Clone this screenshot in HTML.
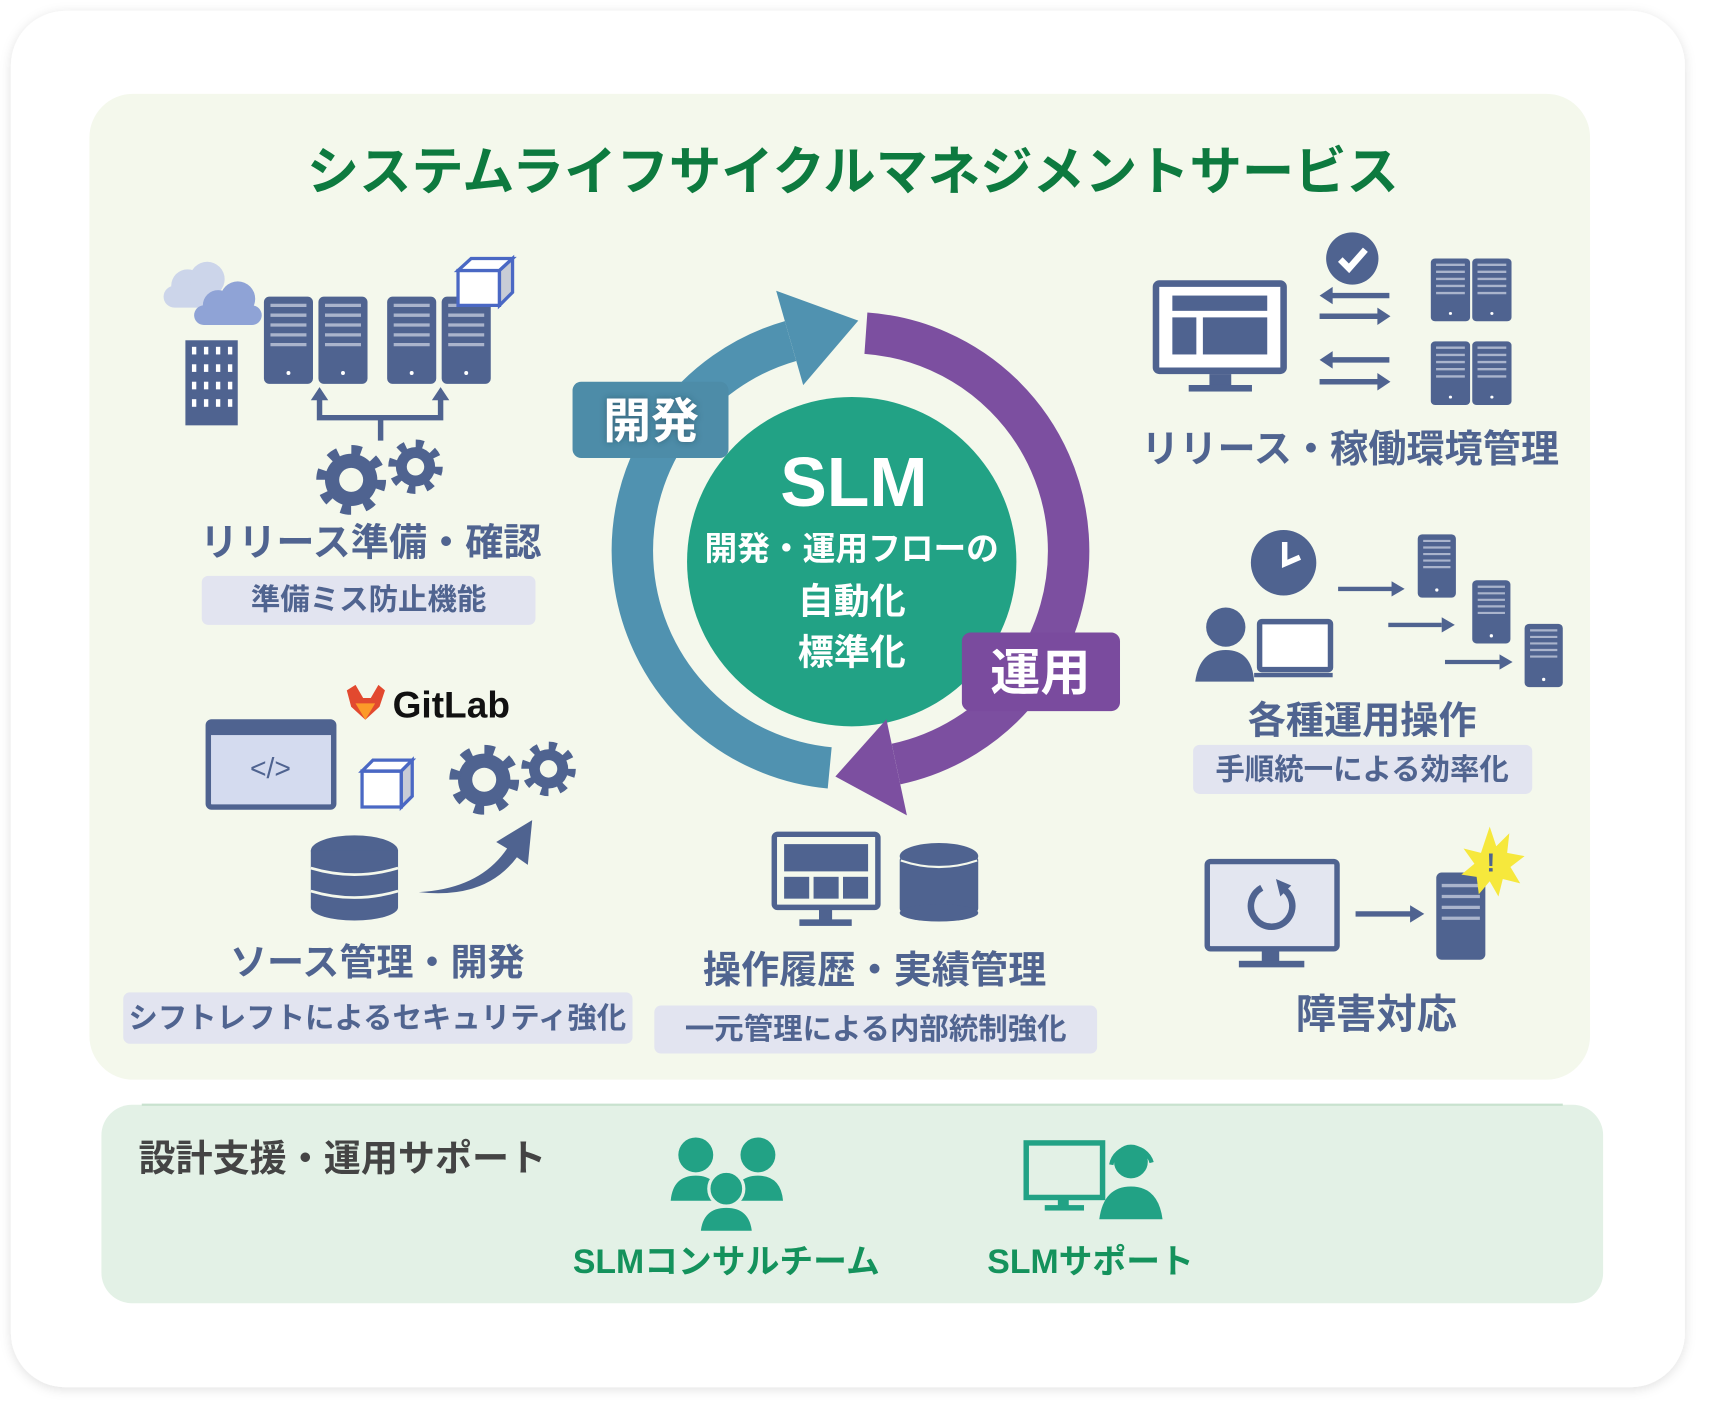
<!DOCTYPE html>
<html><head><meta charset="utf-8"><style>
html,body{margin:0;padding:0;background:#fff;}
svg{display:block;font-family:"Liberation Sans","Noto Sans CJK JP",sans-serif;}
</style></head><body>
<svg width="1710" height="1412" viewBox="0 0 1568 1294.7" xmlns="http://www.w3.org/2000/svg">
<defs>
<filter id="sh" x="-5%" y="-5%" width="110%" height="110%"><feDropShadow dx="0" dy="2" stdDeviation="5" flood-color="#000" flood-opacity="0.12"/></filter>
<filter id="ts" x="-20%" y="-20%" width="140%" height="140%"><feDropShadow dx="0" dy="0" stdDeviation="3" flood-color="#1d3b4a" flood-opacity="0.5"/></filter>
<g id="gearA"><circle r="24" fill="#4f6390"/><circle r="27" fill="none" stroke="#4f6390" stroke-width="10" stroke-dasharray="9 12.2"/><circle r="11" fill="#f4f8ec"/></g>
<g id="gearB"><circle r="18" fill="#4f6390"/><circle r="21" fill="none" stroke="#4f6390" stroke-width="8" stroke-dasharray="7 9.5"/><circle r="8" fill="#f4f8ec"/></g>
<g id="srv"><rect x="0" y="0" width="45" height="80" rx="5" fill="#4f6390"/><g stroke="#aab4cc" stroke-width="3"><line x1="6" y1="8" x2="39" y2="8"/><line x1="6" y1="17" x2="39" y2="17"/><line x1="6" y1="26" x2="39" y2="26"/><line x1="6" y1="35" x2="39" y2="35"/><line x1="6" y1="44" x2="39" y2="44"/></g><circle cx="22.5" cy="70" r="1.8" fill="#fff"/></g>
<g id="srvs"><rect x="0" y="0" width="35" height="58" rx="4" fill="#4f6390"/><g stroke="#aab4cc" stroke-width="2"><line x1="5" y1="6" x2="30" y2="6"/><line x1="5" y1="12" x2="30" y2="12"/><line x1="5" y1="18" x2="30" y2="18"/><line x1="5" y1="24" x2="30" y2="24"/><line x1="5" y1="30" x2="30" y2="30"/></g><circle cx="17.5" cy="51" r="1.5" fill="#fff"/></g>
</defs>

<rect x="10" y="10" width="1535" height="1262" rx="50" fill="#fff" filter="url(#sh)"/>
<rect x="82" y="86" width="1376" height="904" rx="40" fill="#f4f8ec"/>
<rect x="93" y="1013" width="1377" height="182" rx="28" fill="#e3f1e6"/>
<line x1="130" y1="1013" x2="1433" y2="1013" stroke="#c9e2cf" stroke-width="2"/>

<text x="782" y="158" text-anchor="middle" dominant-baseline="central" font-size="48" font-weight="bold" fill="#0d7a3f">システムライフサイクルマネジメントサービス</text>

<!-- Cycle -->
<circle cx="781" cy="515" r="151" fill="#22a285"/>
<path d="M760.8 704.1 A200 200 0 0 1 724.9 312.7" fill="none" stroke="#5092b0" stroke-width="38"/>
<polygon points="736.5,353.1 711.7,266.6 787,294" fill="#5092b0"/>
<path d="M794 305.5 A200 200 0 0 1 821.6 700.6" fill="none" stroke="#7c4fa0" stroke-width="38"/>
<polygon points="812.8,659.5 831.6,747.6 766,712" fill="#7c4fa0"/>
<rect x="525" y="350" width="143" height="70" rx="8" fill="#4d8ca8"/>
<text x="597" y="387" text-anchor="middle" dominant-baseline="central" font-size="44" font-weight="bold" fill="#fff" filter="url(#ts)">開発</text>
<rect x="882" y="580" width="145" height="72" rx="8" fill="#7a4b9e"/>
<text x="954" y="617" text-anchor="middle" dominant-baseline="central" font-size="46" font-weight="bold" fill="#fff">運用</text>
<text x="783" y="442" text-anchor="middle" dominant-baseline="central" font-size="64" font-weight="bold" fill="#fff">SLM</text>
<text x="781" y="503" text-anchor="middle" dominant-baseline="central" font-size="30" font-weight="bold" fill="#fff">開発・運用フローの</text>
<text x="781" y="551" text-anchor="middle" dominant-baseline="central" font-size="33" font-weight="bold" fill="#fff">自動化</text>
<text x="781" y="598" text-anchor="middle" dominant-baseline="central" font-size="33" font-weight="bold" fill="#fff">標準化</text>

<!-- Top-left -->
<g fill="#ccd5ea"><circle cx="172" cy="262" r="15"/><circle cx="190" cy="256" r="16"/><rect x="150" y="262" width="50" height="20" rx="10"/></g>
<g fill="#8fa3d6"><circle cx="200" cy="280" r="14"/><circle cx="218" cy="274" r="16"/><rect x="178" y="280" width="62" height="18" rx="9"/></g>
<rect x="170" y="312" width="48" height="78" fill="#4f6390"/>
<g fill="#fff"><rect x="176" y="318" width="4" height="7"/><rect x="187" y="318" width="4" height="7"/><rect x="198" y="318" width="4" height="7"/><rect x="209" y="318" width="4" height="7"/><rect x="176" y="334" width="4" height="7"/><rect x="187" y="334" width="4" height="7"/><rect x="198" y="334" width="4" height="7"/><rect x="209" y="334" width="4" height="7"/><rect x="176" y="350" width="4" height="7"/><rect x="187" y="350" width="4" height="7"/><rect x="198" y="350" width="4" height="7"/><rect x="209" y="350" width="4" height="7"/><rect x="176" y="366" width="4" height="7"/><rect x="187" y="366" width="4" height="7"/><rect x="198" y="366" width="4" height="7"/><rect x="209" y="366" width="4" height="7"/></g>
<use href="#srv" x="242" y="272"/><use href="#srv" x="292" y="272"/><use href="#srv" x="355" y="272"/><use href="#srv" x="405" y="272"/>
<g><polygon points="420,248 458,248 458,280 420,280" fill="#fff" stroke="#4a68c4" stroke-width="3"/><polygon points="420,248 432,237 470,237 458,248" fill="#fff" stroke="#4a68c4" stroke-width="3"/><polygon points="458,248 470,237 470,268 458,280" fill="#c8ccd6" stroke="#4a68c4" stroke-width="3"/></g>
<g stroke="#4f6390" stroke-width="5" fill="none"><polyline points="293,364 293,383 404,383 404,364"/><line x1="349" y1="383" x2="349" y2="404"/></g>
<polygon points="285,367 293,355 301,367" fill="#4f6390"/><polygon points="396,367 404,355 412,367" fill="#4f6390"/>
<use href="#gearA" x="322" y="440"/><use href="#gearB" x="381" y="428"/>
<text x="340" y="498" text-anchor="middle" dominant-baseline="central" font-size="35" font-weight="bold" fill="#506490">リリース準備・確認</text>
<rect x="185" y="528" width="306" height="45" rx="6" fill="#e2e4f0"/>
<text x="338" y="550" text-anchor="middle" dominant-baseline="central" font-size="27" font-weight="bold" fill="#506490">準備ミス防止機能</text>

<!-- Source -->
<polygon points="318,633 326,628 333,640 340,640 347,628 353,633 348,648 335,660 322,648" fill="#e2492f"/>
<polygon points="326,645 344,645 335,660" fill="#fc9a29"/>
<text x="360" y="646" dominant-baseline="central" font-size="34" font-weight="bold" fill="#111">GitLab</text>
<rect x="191" y="662" width="115" height="78" rx="3" fill="#d4dbef" stroke="#4f6390" stroke-width="5"/>
<rect x="191" y="662" width="115" height="12" fill="#4f6390"/>
<text x="248" y="705" text-anchor="middle" dominant-baseline="central" font-size="26" fill="#4f6390">&lt;/&gt;</text>
<g><polygon points="332,707 368,707 368,740 332,740" fill="#fff" stroke="#4a68c4" stroke-width="3"/><polygon points="332,707 342,697 378,697 368,707" fill="#fff" stroke="#4a68c4" stroke-width="3"/><polygon points="368,707 378,697 378,730 368,740" fill="#c8ccd6" stroke="#4a68c4" stroke-width="3"/></g>
<use href="#gearA" x="444" y="715"/><use href="#gearB" x="503" y="705"/>
<g fill="#4f6390"><ellipse cx="325" cy="780" rx="40" ry="14"/><rect x="285" y="780" width="80" height="52"/><ellipse cx="325" cy="832" rx="40" ry="12"/></g>
<g stroke="#f4f8ec" stroke-width="2.5" fill="none"><path d="M285 796 Q325 808 365 796"/><path d="M285 817 Q325 829 365 817"/></g>
<path d="M384 818 Q440 815 465 778 L455 772 L488 752 L484 793 L474 786 Q445 825 384 818Z" fill="#4f6390"/>
<text x="346" y="882" text-anchor="middle" dominant-baseline="central" font-size="34" font-weight="bold" fill="#506490">ソース管理・開発</text>
<rect x="113" y="910" width="467" height="47" rx="6" fill="#e2e4f0"/>
<text x="346" y="934" text-anchor="middle" dominant-baseline="central" font-size="27" font-weight="bold" fill="#506490">シフトレフトによるセキュリティ強化</text>

<!-- Middle bottom -->
<rect x="710" y="765" width="95" height="67" rx="3" fill="#f4f8ec" stroke="#4f6390" stroke-width="5"/>
<rect x="719" y="774" width="77" height="25" fill="#4f6390"/>
<rect x="719" y="804" width="23" height="20" fill="#4f6390"/><rect x="746" y="804" width="23" height="20" fill="#4f6390"/><rect x="773" y="804" width="23" height="20" fill="#4f6390"/>
<rect x="751" y="832" width="12" height="12" fill="#4f6390"/><rect x="733" y="843" width="48" height="6" fill="#4f6390"/>
<g fill="#4f6390"><rect x="825" y="785" width="72" height="52" rx="4"/><ellipse cx="861" cy="785" rx="36" ry="12"/><ellipse cx="861" cy="837" rx="36" ry="8"/></g>
<path d="M826 789 Q861 801 896 789" stroke="#f4f8ec" stroke-width="2" fill="none"/>
<text x="802" y="890" text-anchor="middle" dominant-baseline="central" font-size="35" font-weight="bold" fill="#506490">操作履歴・実績管理</text>
<rect x="600" y="922" width="406" height="44" rx="6" fill="#e2e4f0"/>
<text x="803" y="944" text-anchor="middle" dominant-baseline="central" font-size="27" font-weight="bold" fill="#506490">一元管理による内部統制強化</text>

<!-- Right top -->
<rect x="1060" y="260" width="117" height="80" rx="3" fill="#fff" stroke="#4f6390" stroke-width="6"/>
<rect x="1075" y="271" width="87" height="14" fill="#4f6390"/><rect x="1075" y="291" width="22" height="34" fill="#4f6390"/><rect x="1103" y="291" width="59" height="34" fill="#4f6390"/>
<rect x="1109" y="343" width="20" height="12" fill="#4f6390"/><rect x="1090" y="353" width="58" height="6" fill="#4f6390"/>
<circle cx="1240" cy="237" r="24" fill="#4f6390"/><polyline points="1229,238 1237,246 1252,229" fill="none" stroke="#fff" stroke-width="6"/>
<g stroke="#4f6390" stroke-width="5"><line x1="1218" y1="271" x2="1274" y2="271"/><line x1="1210" y1="290" x2="1264" y2="290"/><line x1="1218" y1="330" x2="1274" y2="330"/><line x1="1210" y1="350" x2="1264" y2="350"/></g>
<g fill="#4f6390"><polygon points="1210,271 1222,263 1222,279"/><polygon points="1275,290 1263,282 1263,298"/><polygon points="1210,330 1222,322 1222,338"/><polygon points="1275,350 1263,342 1263,358"/></g>
<g transform="translate(1312,237) scale(0.8,0.72)"><use href="#srv"/></g><g transform="translate(1350,237) scale(0.8,0.72)"><use href="#srv"/></g>
<g transform="translate(1312,313) scale(0.8,0.73)"><use href="#srv"/></g><g transform="translate(1350,313) scale(0.8,0.73)"><use href="#srv"/></g>
<text x="1238" y="412" text-anchor="middle" dominant-baseline="central" font-size="35" font-weight="bold" fill="#506490">リリース・稼働環境管理</text>

<!-- Right mid -->
<circle cx="1177" cy="516" r="30" fill="#4f6390"/><polyline points="1178,497 1178,517 1192,511" fill="none" stroke="#fff" stroke-width="5"/>
<circle cx="1124" cy="575" r="18" fill="#4f6390"/><path d="M1096 625 Q1100 596 1124 596 Q1148 596 1150 625Z" fill="#4f6390"/>
<rect x="1155" y="570" width="65" height="44" rx="2" fill="#fff" stroke="#4f6390" stroke-width="5"/><rect x="1150" y="617" width="72" height="4" fill="#4f6390"/>
<g stroke="#4f6390" stroke-width="4"><line x1="1227" y1="540" x2="1278" y2="540"/><line x1="1273" y1="573" x2="1322" y2="573"/><line x1="1325" y1="607" x2="1375" y2="607"/></g>
<g fill="#4f6390"><polygon points="1288,540 1276,533 1276,547"/><polygon points="1334,573 1322,566 1322,580"/><polygon points="1387,607 1375,600 1375,614"/></g>
<use href="#srvs" x="1300" y="490"/><use href="#srvs" x="1350" y="532"/><use href="#srvs" x="1398" y="572"/>
<text x="1249" y="661" text-anchor="middle" dominant-baseline="central" font-size="35" font-weight="bold" fill="#506490">各種運用操作</text>
<rect x="1094" y="683" width="311" height="45" rx="6" fill="#e2e4f0"/>
<text x="1249" y="706" text-anchor="middle" dominant-baseline="central" font-size="27" font-weight="bold" fill="#506490">手順統一による効率化</text>

<!-- Right bottom -->
<rect x="1107" y="790" width="119" height="80" rx="3" fill="#e3e6f0" stroke="#4f6390" stroke-width="5"/>
<rect x="1157" y="870" width="16" height="12" fill="#4f6390"/><rect x="1136" y="881" width="60" height="6" fill="#4f6390"/>
<path d="M1157 814 A19 19 0 1 0 1175 814" fill="none" stroke="#4f6390" stroke-width="6"/>
<polygon points="1170,806 1184,812 1174,822" fill="#4f6390"/>
<line x1="1243" y1="838" x2="1295" y2="838" stroke="#4f6390" stroke-width="5"/><polygon points="1306,838 1293,830 1293,846" fill="#4f6390"/>
<rect x="1317" y="800" width="45" height="80" rx="5" fill="#4f6390"/>
<g stroke="#aab4cc" stroke-width="3"><line x1="1322" y1="812" x2="1357" y2="812"/><line x1="1322" y1="822" x2="1357" y2="822"/><line x1="1322" y1="832" x2="1357" y2="832"/><line x1="1322" y1="842" x2="1357" y2="842"/></g>
<polygon points="1366,758 1372,776 1384,764 1382,782 1398,785 1385,795 1394,810 1378,806 1374,822 1366,808 1356,820 1354,804 1340,802 1352,792 1342,778 1358,782" fill="#f6e83c"/>
<text x="1367" y="791" text-anchor="middle" dominant-baseline="central" font-size="24" font-weight="bold" fill="#4f6390">!</text>
<text x="1262" y="930" text-anchor="middle" dominant-baseline="central" font-size="37" font-weight="bold" fill="#506490">障害対応</text>

<!-- Bottom panel -->
<text x="127" y="1062" dominant-baseline="central" font-size="34" font-weight="bold" fill="#444">設計支援・運用サポート</text>
<g fill="#22a285">
<circle cx="638" cy="1059" r="16"/><circle cx="695" cy="1059" r="16"/>
<path d="M615 1101 Q617 1078 638 1078 Q659 1078 661 1101Z"/><path d="M672 1101 Q674 1078 695 1078 Q716 1078 718 1101Z"/>
<circle cx="666" cy="1090" r="16" stroke="#e3f1e6" stroke-width="3"/>
<path d="M641 1130 Q643 1106 666 1106 Q689 1106 691 1130Z" stroke="#e3f1e6" stroke-width="3"/>
</g>
<rect x="941" y="1048" width="70" height="50" fill="#e3f1e6" stroke="#22a285" stroke-width="5"/>
<rect x="970" y="1098" width="10" height="8" fill="#22a285"/><rect x="958" y="1105" width="36" height="5" fill="#22a285"/>
<circle cx="1037" cy="1065" r="17" fill="#22a285" stroke="#e3f1e6" stroke-width="3"/>
<path d="M1008 1118 Q1012 1088 1037 1088 Q1062 1088 1066 1118Z" fill="#22a285"/>
<path d="M1019 1068 A19 19 0 0 1 1056 1066" fill="none" stroke="#22a285" stroke-width="4"/>
<text x="666" y="1157" text-anchor="middle" dominant-baseline="central" font-size="31" font-weight="bold" fill="#14925c">SLMコンサルチーム</text>
<text x="1000" y="1157" text-anchor="middle" dominant-baseline="central" font-size="31" font-weight="bold" fill="#14925c">SLMサポート</text>
</svg>
</body></html>
